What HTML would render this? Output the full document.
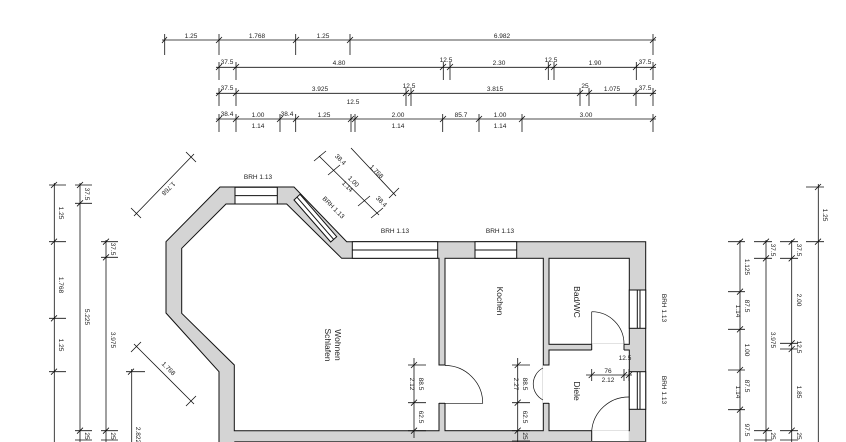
<!DOCTYPE html>
<html><head><meta charset="utf-8"><style>
html,body{margin:0;padding:0;background:#fff;}
svg{display:block;}
text{font-family:"Liberation Sans",sans-serif;font-size:6.5px;fill:#222;}
.t{font-size:7px;}
.r{font-size:8.5px;}
</style></head><body>
<svg width="846" height="442" viewBox="0 0 846 442" xmlns="http://www.w3.org/2000/svg">
<!-- walls -->
<polygon points="220,187 294,187 346.7,241.7 645.7,241.7 645.7,450 219,450 219,371.7 166,313 166,241.7" fill="#d4d4d4" stroke="#111" stroke-width="1"/>
<!-- rooms -->
<g fill="#fff" stroke="#111" stroke-width="1">
<polygon points="181.7,248.3 226,204 286.7,204 341.7,258.3 439,258.3 439,430.7 234.3,430.7 234.3,365 181.7,313.3"/>
<rect x="445" y="258.3" width="98.3" height="172.4"/>
<rect x="549" y="258.3" width="80.3" height="86"/>
<rect x="549" y="350" width="80.3" height="80.7"/>
</g>
<!-- door openings (white patches) -->
<g fill="#fff" stroke="none">
<rect x="438.5" y="365.5" width="7" height="37.5"/>
<rect x="542.8" y="365.5" width="7" height="37.5"/>
<rect x="591.7" y="343.8" width="32.3" height="7"/>
<rect x="591.7" y="430.2" width="37" height="12"/>
</g>
<g stroke="#111" stroke-width="1" fill="none">
<line x1="439" y1="365" x2="445" y2="365"/><line x1="439" y1="403.3" x2="445" y2="403.3"/>
<line x1="543.3" y1="365" x2="549" y2="365"/><line x1="543.3" y1="403.3" x2="549" y2="403.3"/>
<line x1="591.7" y1="344.3" x2="591.7" y2="350"/><line x1="624" y1="344.3" x2="624" y2="350"/>
<line x1="591.7" y1="430.7" x2="591.7" y2="442"/>
<line x1="234.3" y1="441.5" x2="645.7" y2="441.5" stroke="#555"/>
<!-- doors -->
<path d="M445,365.5 A37.7,37.7 0 0 1 482.7,403.3 L445,403.3" stroke-width="0.7"/>
<path d="M543,368 A18,18 0 0 0 543,400" stroke-width="0.7"/>
<path d="M591.7,311.7 A32.3,32.3 0 0 1 624,344.3 M591.7,311.7 L591.7,344.3" stroke-width="0.7"/>
<path d="M591.7,430.7 A37,37 0 0 1 628.7,397 M628.7,397 L629.3,397" stroke-width="0.7"/>
<!-- windows -->
<rect x="235" y="187.3" width="42.3" height="16.7" fill="#fff"/><line x1="235" y1="195.6" x2="277.3" y2="195.6"/>
<polygon points="294,200 300,194.3 336.7,236.7 330.7,242" fill="#fff"/><line x1="297" y1="197.2" x2="333.7" y2="239.4"/>
<rect x="352.3" y="241.7" width="85.4" height="16.6" fill="#fff"/><line x1="352.3" y1="250" x2="437.7" y2="250"/>
<rect x="475" y="241.7" width="41.7" height="16.6" fill="#fff"/><line x1="475" y1="250" x2="516.7" y2="250"/>
<rect x="629.3" y="290" width="16.4" height="38.3" fill="#fff"/><line x1="637.3" y1="290" x2="637.3" y2="328.3"/><line x1="640" y1="290" x2="640" y2="328.3"/>
<rect x="629.3" y="371.7" width="16.4" height="37.6" fill="#fff"/><line x1="637.3" y1="371.7" x2="637.3" y2="409.3"/><line x1="640" y1="371.7" x2="640" y2="409.3"/>
</g>

<!-- top dimension lines -->
<g stroke="#111" stroke-width="0.8" fill="none">
<line x1="162" y1="40" x2="656" y2="40"/>
<path d="M164.7,34V55 M219,34V55 M295.7,34V55 M350,34V55 M653,34V55"/>
<path d="M162,43l5,-6 M216,43l6,-6 M293,43l6,-6 M347,43l6,-6 M650,43l6,-6"/>
<line x1="216" y1="67.3" x2="656" y2="67.3"/>
<path d="M219,62V80 M236,62V80 M443.3,62V80 M450,62V80 M548.3,62V80 M554,62V80 M636.3,62V80 M653,62V80"/>
<path d="M216,70l6,-6 M233,70l6,-6 M440,70l6,-6 M447,70l6,-6 M545,70l6,-6 M551,70l6,-6 M633,70l6,-6 M650,70l6,-6"/>
<line x1="216" y1="93.3" x2="656" y2="93.3"/>
<path d="M219,88V106 M236,88V106 M406,88V106 M411,88V106 M580,88V106 M589,88V106 M636,88V106 M653,88V106"/>
<path d="M216,96l6,-6 M233,96l6,-6 M403,96l6,-6 M408,96l6,-6 M577,96l6,-6 M586,96l6,-6 M633,96l6,-6 M650,96l6,-6"/>
<line x1="216" y1="119" x2="656" y2="119"/>
<path d="M219,114V132 M236,114V132 M280,114V132 M295.7,114V132 M351,114V132 M355,114V132 M442.7,114V132 M479,114V132 M522,114V132 M653,114V132"/>
<path d="M216,122l6,-6 M233,122l6,-6 M277,122l6,-6 M293,122l6,-6 M348,122l6,-6 M352,122l6,-6 M440,122l6,-6 M476,122l6,-6 M519,122l6,-6 M650,122l6,-6"/>
</g>
<g text-anchor="middle">
<text x="191" y="38">1.25</text><text x="257" y="38">1.768</text><text x="323" y="38">1.25</text><text x="502" y="38">6.982</text>
<text x="227" y="64">37.5</text><text x="339" y="65">4.80</text><text x="446" y="62">12.5</text><text x="499" y="65">2.30</text><text x="551" y="62">12.5</text><text x="595" y="65">1.90</text><text x="645" y="64">37.5</text>
<text x="227" y="90">37.5</text><text x="320" y="91">3.925</text><text x="409" y="88">12.5</text><text x="495" y="91">3.815</text><text x="585" y="88">25</text><text x="612" y="91">1.075</text><text x="645" y="90">37.5</text>
<text x="227" y="116">38.4</text><text x="258" y="117">1.00</text><text x="258" y="128">1.14</text><text x="287" y="116">38.4</text><text x="324" y="117">1.25</text><text x="353" y="104">12.5</text><text x="398" y="117">2.00</text><text x="398" y="128">1.14</text><text x="461" y="117">85.7</text><text x="500" y="117">1.00</text><text x="500" y="128">1.14</text><text x="586" y="117">3.00</text>
</g>

<!-- left dimensions -->
<g stroke="#111" stroke-width="0.8" fill="none">
<line x1="54.3" y1="183" x2="54.3" y2="442"/>
<path d="M49,185H66 M49,241.7H66 M49,318.3H66 M49,371.7H66"/>
<path d="M51,188l6,-6 M51,244.7l6,-6 M51,321.3l6,-6 M51,374.7l6,-6"/>
<line x1="80" y1="183" x2="80" y2="442"/>
<path d="M75,185H92 M75,203.3H92 M75,430.7H92 M75,440H92"/>
<path d="M77,188l6,-6 M77,206.3l6,-6 M77,433.7l6,-6"/>
<line x1="106" y1="240" x2="106" y2="442"/>
<path d="M101,241.7H118 M101,257.3H118 M101,430.7H118 M101,440H118"/>
<path d="M103,244.7l6,-6 M103,260.3l6,-6 M103,433.7l6,-6"/>
<line x1="131.7" y1="369" x2="131.7" y2="442"/>
<path d="M126,371.7H145 M128,374.7l6,-6"/>
<!-- diagonals -->
<line x1="134" y1="216" x2="194" y2="154"/>
<path d="M131,208l10,10 M186,152l10,10"/>
<line x1="134" y1="344" x2="194" y2="404"/>
<path d="M131,352l10,-10 M186,406l10,-10"/>
<line x1="319" y1="156" x2="379" y2="215"/>
<path d="M314,161l12,-10 M328,175l12,-10 M358,206l12,-10 M371,218l12,-10"/>
<line x1="351" y1="148" x2="396" y2="196"/>
<path d="M389,198l10,-10"/>
<!-- right -->
<line x1="740" y1="240" x2="740" y2="442"/>
<path d="M728,241.7H745 M728,291.7H745 M728,329.3H745 M728,370H745 M728,409.7H745"/>
<path d="M737,244.7l6,-6 M737,294.7l6,-6 M737,332.3l6,-6 M737,373l6,-6 M737,412.7l6,-6"/>
<line x1="766" y1="240" x2="766" y2="442"/>
<path d="M754,241.7H772 M754,258.3H772 M754,430.7H772 M754,440H772"/>
<path d="M763,244.7l6,-6 M763,261.3l6,-6 M763,433.7l6,-6"/>
<line x1="791.7" y1="240" x2="791.7" y2="442"/>
<path d="M780,241.7H798 M780,258.3H798 M780,343.3H798 M780,349H798 M780,430.7H798 M780,440H798"/>
<path d="M788.7,244.7l6,-6 M788.7,261.3l6,-6 M788.7,346.3l6,-6 M788.7,352l6,-6 M788.7,433.7l6,-6"/>
<line x1="818.3" y1="184" x2="818.3" y2="442"/>
<path d="M806,187H824 M806,241.7H824"/>
<path d="M815,190l6,-6 M815,244.7l6,-6"/>
<!-- interior dims -->
<line x1="414" y1="358" x2="414" y2="438"/>
<path d="M408,365H426 M408,402.7H426 M408,430.7H426"/>
<path d="M411,368l6,-6 M411,405.7l6,-6 M411,433.7l6,-6"/>
<line x1="517.7" y1="358" x2="517.7" y2="442"/>
<path d="M512,365H530 M512,402.7H530 M512,430.7H530 M512,441H530"/>
<path d="M514.7,368l6,-6 M514.7,405.7l6,-6 M514.7,433.7l6,-6"/>
<line x1="586" y1="375" x2="632" y2="375"/>
<path d="M591.7,369V381 M624,369V381 M629,369V381"/>
<path d="M588.7,378l6,-6 M621,378l6,-6 M626,378l6,-6"/>
</g>
<g text-anchor="middle">
<text transform="translate(59,213) rotate(90)">1.25</text>
<text transform="translate(59,285) rotate(90)">1.768</text>
<text transform="translate(59,345) rotate(90)">1.25</text>
<text transform="translate(85,194) rotate(90)">37.5</text>
<text transform="translate(85,317) rotate(90)">5.225</text>
<text transform="translate(85,436) rotate(90)">25</text>
<text transform="translate(111,249) rotate(90)">37.5</text>
<text transform="translate(111,340) rotate(90)">3.975</text>
<text transform="translate(111,436) rotate(90)">25</text>
<text transform="translate(136,435) rotate(90)">2.822</text>
<text transform="translate(167,187) rotate(135)">1.768</text>
<text transform="translate(167,370) rotate(45)">1.768</text>
<text transform="translate(375,173) rotate(45)">1.768</text>
<text transform="translate(339,161) rotate(45)">38.4</text>
<text transform="translate(352,183) rotate(45)">1.00</text>
<text transform="translate(346,188) rotate(45)">1.14</text>
<text transform="translate(380,203) rotate(45)">38.4</text>
<text transform="translate(745,267) rotate(90)">1.125</text>
<text transform="translate(745,306) rotate(90)">87.5</text>
<text transform="translate(736,311) rotate(90)">1.14</text>
<text transform="translate(745,350) rotate(90)">1.00</text>
<text transform="translate(745,386) rotate(90)">87.5</text>
<text transform="translate(736,392) rotate(90)">1.14</text>
<text transform="translate(745,430) rotate(90)">97.5</text>
<text transform="translate(771,250) rotate(90)">37.5</text>
<text transform="translate(771,340) rotate(90)">3.975</text>
<text transform="translate(771,436) rotate(90)">25</text>
<text transform="translate(797,250) rotate(90)">37.5</text>
<text transform="translate(797,300) rotate(90)">2.00</text>
<text transform="translate(797,347) rotate(90)">12.5</text>
<text transform="translate(797,392) rotate(90)">1.85</text>
<text transform="translate(797,436) rotate(90)">25</text>
<text transform="translate(823,215) rotate(90)">1.25</text>
<text transform="translate(419,384) rotate(90)">88.5</text>
<text transform="translate(410,384) rotate(90)">2.12</text>
<text transform="translate(419,417) rotate(90)">62.5</text>
<text transform="translate(523,384) rotate(90)">88.5</text>
<text transform="translate(514,384) rotate(90)">2.27</text>
<text transform="translate(523,417) rotate(90)">62.5</text>
<text transform="translate(523,436) rotate(90)">25</text>
<text x="608" y="373">76</text><text x="608" y="382">2.12</text><text x="625" y="360">12.5</text>
<!-- BRH -->
<text x="258" y="179">BRH 1.13</text>
<text transform="translate(332,209) rotate(45)">BRH 1.13</text>
<text x="395" y="233">BRH 1.13</text>
<text x="500" y="233">BRH 1.13</text>
<text transform="translate(662,308) rotate(90)">BRH 1.13</text>
<text transform="translate(662,390) rotate(90)">BRH 1.13</text>
<!-- rooms -->
<text class="r" transform="translate(335,345) rotate(90)">Wohnen</text>
<text class="r" transform="translate(325,345) rotate(90)">Schlafen</text>
<text class="r" transform="translate(497,301) rotate(90)">Kochen</text>
<text class="r" transform="translate(574,302) rotate(90)">Bad/WC</text>
<text class="r" transform="translate(574,391) rotate(90)">Diele</text>
</g>
</svg>
</body></html>
